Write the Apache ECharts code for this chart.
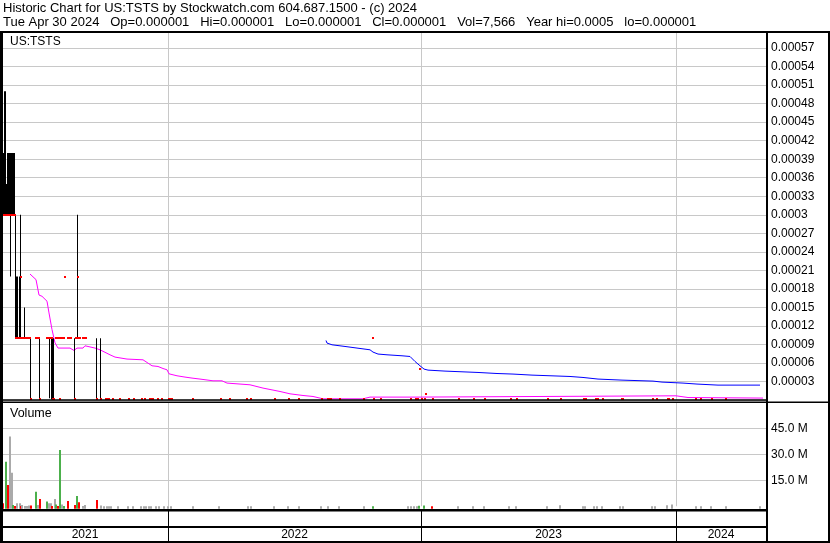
<!DOCTYPE html>
<html><head><meta charset="utf-8">
<script src="https://cdn.jsdelivr.net/npm/echarts@6/dist/echarts.min.js"></script>
<style>html,body{margin:0;padding:0;background:#fff}#c{width:830px;height:543px}</style>
</head><body><div id="c"></div>
<script>
// ---------------- DATA (x = trading-day index from first bar) ----------------
const headerLine1 = 'Historic Chart for US:TSTS by Stockwatch.com 604.687.1500 - (c) 2024';
const headerLine2 = 'Tue Apr 30 2024   Op=0.000001   Hi=0.000001   Lo=0.000001   Cl=0.000001   Vol=7,566   Year hi=0.0005   lo=0.000001';
const symbolLabel = 'US:TSTS';
const volumeLabel = 'Volume';

const yearLabel = ['2021', '2022', '2023', '2024'];
const yearStart = [0, 166, 419, 674];
const yearEnd   = [166, 419, 674, 764];

// high-low bars
const barDay  = [0, 1, 2, 3, 4, 5, 6, 7, 8, 9, 10, 11, 12, 13, 14, 15, 17, 18, 22, 28, 37, 47, 49, 50, 51, 72, 75, 94, 98];
const barLow  = [0.0003, 0.0003, 0.0003, 0.0003, 0.0003, 0.0003, 0.0003, 0.0003, 0.0002, 0.0003, 0.0003, 0.0003, 0.0003, 0.0001, 0.0001, 0.0001, 0.0001, 0.0001, 0.0001, 0.000001, 0.000001, 0.000003, 0.000001, 0.000001, 0.000001, 0.000001, 0.0001, 0.000001, 0.000001];
const barHigh = [0.0004, 0.0004, 0.0005, 0.0005, 0.00035, 0.0004, 0.0004, 0.0004, 0.0004, 0.0004, 0.0004, 0.0004, 0.0004, 0.0003, 0.0002, 0.0002, 0.0002, 0.0003, 0.00015, 0.0001, 0.0001, 0.0001, 0.0001, 0.0001, 0.0001, 0.0001, 0.0003, 0.0001, 0.0001];

// closes (red ticks)
const closeDay = [0, 1, 2, 3, 4, 5, 6, 7, 8, 9, 10, 11, 12,
  13, 14, 15, 16, 17, 18, 19, 20, 21, 22, 23, 24, 25, 26, 27, 28,
  33, 34, 35, 36, 37, 44, 45, 46, 47, 48, 49, 50, 51, 53, 54, 55, 56, 57, 58, 59, 60, 61, 62,
  65, 66, 67, 68, 72, 73, 74, 75, 76, 77, 80, 81, 82, 83, 94, 98,
  103, 104, 105, 106, 110, 117, 126, 131, 139, 142, 147, 148, 149, 150, 155, 159, 166, 167, 168, 169,
  190, 218, 227, 244, 248, 272, 286, 296, 319, 325, 326, 328, 337, 361, 370, 371, 378,
  408, 413, 414, 415, 417, 419, 422, 423, 430, 456, 471, 482, 508, 514, 545, 558, 581, 582, 583,
  593, 594, 595, 600, 619, 620, 650, 654, 665, 666, 670, 693, 698, 709, 723, 758];
const closeVal = [0.0003, 0.0003, 0.0003, 0.0003, 0.0003, 0.0003, 0.0003, 0.0003, 0.0003, 0.0003, 0.0003, 0.0003, 0.0003,
  0.0001, 0.0001, 0.0001, 0.0001, 0.0001, 0.0002, 0.0001, 0.0001, 0.0001, 0.0001, 0.0001, 0.0001, 0.0001, 0.0001, 0.0001, 0.000001,
  0.0001, 0.0001, 0.0001, 0.0001, 0.000001, 0.0001, 0.0001, 0.0001, 0.0001, 0.0001, 0.0001, 0.000001, 0.000001, 0.0001, 0.0001, 0.0001, 0.0001, 0.000001, 0.0001, 0.0001, 0.0001, 0.0001, 0.0002,
  0.0001, 0.0001, 0.0001, 0.0001, 0.000001, 0.0001, 0.0001, 0.0002, 0.0001, 0.0001, 0.0001, 0.0001, 0.0001, 0.0001, 0.000001, 0.000001,
  0.000001, 0.000001, 0.000001, 0.000001, 0.000001, 0.000001, 0.000001, 0.000001, 0.000001, 0.000001, 0.000001, 0.000001, 0.000001, 0.000001, 0.000001, 0.000001, 0.000001, 0.000001, 0.000001, 0.000001,
  0.000001, 0.000001, 0.000001, 0.000001, 0.000001, 0.000001, 0.000001, 0.000001, 0.000001, 0.000001, 0.000001, 0.000001, 0.000001, 0.000001, 0.0001, 0.000001, 0.000001,
  0.000001, 0.000001, 0.000001, 0.000001, 0.00005, 0.000001, 0.000001, 0.00001, 0.000001, 0.000001, 0.000001, 0.000001, 0.000001, 0.000001, 0.000001, 0.000001, 0.000001, 0.000001, 0.000001,
  0.000001, 0.000001, 0.000001, 0.000001, 0.000001, 0.000001, 0.000001, 0.000001, 0.000001, 0.000001, 0.000001, 0.000001, 0.000001, 0.000001, 0.000001];

// short moving average (magenta)
const maShortDay = [28, 34, 37, 40, 45, 47, 50, 53, 56, 68, 72, 75, 81, 83, 93, 98, 108, 113, 125, 141, 145, 150, 156, 161, 165, 167, 175, 183, 190, 198, 211, 220, 225, 248, 261, 278, 288, 301, 311, 321, 361, 368, 415, 416, 674, 686, 761];
const maShortVal = [0.000204, 0.000195, 0.000170, 0.000168, 0.000160, 0.000141, 0.000114, 0.0000927, 0.0000841, 0.0000841, 0.0000802, 0.0000841, 0.0000841, 0.0000878, 0.0000841, 0.0000813, 0.0000732, 0.0000695, 0.0000663, 0.0000651, 0.0000608, 0.0000554, 0.0000543, 0.0000510, 0.0000489, 0.0000424, 0.0000392, 0.0000371, 0.0000355, 0.0000339, 0.0000311, 0.0000311, 0.0000274, 0.0000246, 0.0000193, 0.0000138, 0.0000100, 0.0000073, 0.0000057, 0.0000019, 0.0000019, 0.0000047, 0.0000047, 0.0000068, 0.0000068, 0.0000040, 0.0000031];

// long moving average (blue)
const maLongDay = [324, 325, 330, 343, 355, 368, 371, 376, 385, 400, 408, 413, 418, 422, 426, 443, 476, 495, 511, 530, 568, 581, 596, 620, 651, 660, 681, 695, 716, 758];
const maLongVal = [0.0000964, 0.0000922, 0.0000894, 0.0000867, 0.0000841, 0.0000813, 0.0000776, 0.0000744, 0.0000732, 0.0000716, 0.0000705, 0.0000624, 0.0000554, 0.0000501, 0.0000484, 0.0000468, 0.0000446, 0.0000429, 0.0000420, 0.0000403, 0.0000381, 0.0000365, 0.0000339, 0.0000322, 0.0000306, 0.0000290, 0.0000274, 0.0000258, 0.0000241, 0.0000241];

// volume (millions) and direction: u = up, d = down, n = unchanged
const volDay = [0, 3, 5, 7, 9, 10, 12, 14, 17, 18, 19, 22, 24, 26, 28, 33, 35, 37, 44, 46, 48, 49, 52, 53, 55, 57, 59, 61, 65, 72, 74, 76, 80, 82, 94, 98,
  101, 104, 106, 108, 115, 125, 130, 138, 141, 143, 146, 148, 153, 156, 161, 165, 168, 190, 216, 245, 248, 271, 285, 296, 318, 325, 336, 361, 370,
  405, 408, 411, 414, 416, 421, 429, 455, 470, 481, 506, 513, 544, 557, 580, 582, 591, 594, 599, 617, 620, 649, 652, 664, 669, 693, 698, 708, 723, 757];
const volVal = [1.7, 25.7, 12.3, 40.2, 19.4, 0.8, 0.2, 1.7, 1.7, 0.2, 0.8, 0.2, 0.2, 0.4, 0.4, 8.4, 0.8, 4.2, 2.7, 1.7, 1.7, 0.2, 4.2, 1.1, 0.2, 32.5, 1.1, 0.2, 3.1, 0.8, 5.9, 2.3, 0.2, 0.8, 3.6, 0.4,
  0.1, 0.1, 0.1, 0.1, 0.1, 0.1, 0.1, 0.1, 0.1, 0.1, 0.1, 0.1, 0.1, 0.1, 0.1, 0.1, 0.1, 0.1, 0.1, 0.1, 0.1, 0.1, 0.1, 0.1, 0.1, 0.1, 0.1, 0.1, 0.1,
  0.1, 0.1, 0.1, 0.1, 0.3, 0.4, 0.1, 0.1, 0.1, 0.1, 0.1, 0.1, 0.1, 0.6, 0.1, 0.1, 0.1, 0.1, 0.1, 0.1, 0.1, 0.1, 0.1, 0.6, 1.0, 0.1, 0.1, 0.1, 0.1, 0.1];
const volDir = ['d', 'u', 'd', 'n', 'n', 'u', 'd', 'n', 'n', 'd', 'n', 'n', 'n', 'n', 'd', 'u', 'n', 'd', 'u', 'n', 'n', 'd', 'n', 'u', 'd', 'u', 'n', 'u', 'd', 'd', 'u', 'd', 'n', 'n', 'd', 'n',
  'n', 'n', 'n', 'n', 'n', 'n', 'n', 'n', 'n', 'n', 'n', 'n', 'n', 'n', 'n', 'n', 'n', 'n', 'n', 'n', 'n', 'n', 'n', 'n', 'n', 'n', 'n', 'n', 'u',
  'n', 'n', 'n', 'n', 'u', 'u', 'd', 'n', 'n', 'n', 'n', 'n', 'n', 'n', 'n', 'n', 'n', 'n', 'n', 'n', 'n', 'n', 'n', 'n', 'n', 'n', 'n', 'n', 'n', 'n'];

// ---------------- CHART ----------------
const FONT = '"Liberation Sans", Arial, sans-serif';
const GRID = '#c8c8c8';
const dirColor = { u: '#4cb04c', d: '#ff0000', n: '#aaaaaa' };

const barData = barDay.map((d, i) => [d, barLow[i], barHigh[i]]);
const closeData = closeDay.map((d, i) => [d, closeVal[i]]);
const maShortData = maShortDay.map((d, i) => [d, maShortVal[i]]);
const maLongData = maLongDay.map((d, i) => [d, maLongVal[i]]);
const volData = volDay.map((d, i) => [d, volVal[i] * 1e6]);
const yearData = yearStart.map((s, i) => [s, yearEnd[i]]);
const yearLineData = yearStart.slice(1).map(s => [s, 0]);

const chart = echarts.init(document.getElementById('c'), null, { renderer: 'canvas', width: 830, height: 543 });

function yearGridSeries(idx) {
  return {
    type: 'custom', xAxisIndex: idx, yAxisIndex: idx, silent: true, z: 1,
    data: yearLineData,
    renderItem: (p, api) => {
      const x = Math.round(api.coord([api.value(0), 0])[0]);
      const cs = p.coordSys;
      return { type: 'rect', shape: { x: x, y: cs.y, width: 1, height: cs.height }, style: { fill: GRID } };
    }
  };
}

const option = {
  animation: false,
  backgroundColor: '#ffffff',
  grid: [
    { left: 2, top: 32, width: 764, height: 368, outerBoundsMode: 'none' },
    { left: 2, top: 402.3, width: 764, height: 104, outerBoundsMode: 'none' },
    { left: 2, top: 509, width: 764, height: 33, outerBoundsMode: 'none' }
  ],
  xAxis: [0, 1, 2].map(i => ({ type: 'value', gridIndex: i, min: 0, max: 764, show: false })),
  yAxis: [
    {
      type: 'value', gridIndex: 0, position: 'right', min: 0, max: 0.000596, interval: 0.00003,
      axisLine: { show: false }, axisTick: { show: false },
      splitLine: { show: true, lineStyle: { color: GRID, width: 1 } },
      axisLabel: { showMinLabel: false, showMaxLabel: false, margin: 5, color: '#000', fontSize: 12, fontFamily: FONT,
        formatter: v => String(+v.toFixed(6)) }
    },
    {
      type: 'value', gridIndex: 1, position: 'right', min: 0, max: 60e6, interval: 15e6,
      axisLine: { show: false }, axisTick: { show: false },
      splitLine: { show: true, showMinLine: false, lineStyle: { color: GRID, width: 1 } },
      axisLabel: { showMinLabel: false, showMaxLabel: false, margin: 5, color: '#000', fontSize: 12, fontFamily: FONT,
        formatter: v => (v / 1e6).toFixed(1) + ' M' }
    },
    { type: 'value', gridIndex: 2, min: 0, max: 1, show: false }
  ],
  series: [
    yearGridSeries(0),
    yearGridSeries(1),
    {
      type: 'line', xAxisIndex: 0, yAxisIndex: 0, data: maShortData, showSymbol: false, silent: true, z: 2,
      lineStyle: { color: '#ff00ff', width: 1 }
    },
    {
      type: 'line', xAxisIndex: 0, yAxisIndex: 0, data: maLongData, showSymbol: false, silent: true, z: 2,
      lineStyle: { color: '#0000ff', width: 1 }
    },
    {
      type: 'custom', xAxisIndex: 0, yAxisIndex: 0, data: barData, silent: true, z: 3,
      renderItem: (p, api) => {
        const lo = api.coord([api.value(0), api.value(1)]);
        const hi = api.coord([api.value(0), api.value(2)]);
        return { type: 'rect', shape: { x: Math.round(lo[0]), y: hi[1], width: 1, height: lo[1] - hi[1] }, style: { fill: '#000' } };
      }
    },
    {
      type: 'custom', xAxisIndex: 0, yAxisIndex: 0, data: closeData, silent: true, z: 4,
      renderItem: (p, api) => {
        const c = api.coord([api.value(0), api.value(1)]);
        return { type: 'rect', shape: { x: Math.round(c[0]), y: Math.round(c[1]) - 1, width: 2, height: 2 }, style: { fill: '#ff0000' } };
      }
    },
    {
      type: 'custom', xAxisIndex: 1, yAxisIndex: 1, data: volData, silent: true, z: 3,
      renderItem: (p, api) => {
        const top = api.coord([api.value(0), api.value(1)]);
        const base = api.coord([api.value(0), 0]);
        return { type: 'rect', shape: { x: Math.round(top[0]), y: top[1], width: 2, height: base[1] + 2.5 - top[1] },
          style: { fill: dirColor[volDir[p.dataIndex]] } };
      }
    },
    {
      type: 'custom', xAxisIndex: 2, yAxisIndex: 2, data: yearData, silent: true, z: 5,
      renderItem: (p, api) => {
        const cs = p.coordSys;
        const x1 = Math.round(api.coord([api.value(0), 0])[0]);
        const x2 = api.coord([api.value(1), 0])[0];
        const children = [{
          type: 'text',
          style: { text: yearLabel[p.dataIndex], x: (x1 + x2) / 2, y: cs.y + cs.height * 0.79,
            align: 'center', verticalAlign: 'middle', font: '12px ' + FONT, fill: '#000' }
        }];
        if (api.value(0) > 0) {
          children.push({ type: 'rect', shape: { x: x1, y: cs.y, width: 1, height: cs.height }, style: { fill: '#000' } });
        }
        return { type: 'group', children: children };
      }
    }
  ],
  graphic: [
    { type: 'text', x: 3, y: 8.5, style: { text: headerLine1, font: '13px ' + FONT, fill: '#000', verticalAlign: 'middle' } },
    { type: 'text', x: 3, y: 22.5, style: { text: headerLine2, font: '13px ' + FONT, fill: '#000', verticalAlign: 'middle' } },
    { type: 'text', x: 10, y: 41.5, style: { text: symbolLabel, font: '12px ' + FONT, fill: '#000', verticalAlign: 'middle' } },
    { type: 'text', x: 10, y: 413.8, style: { text: volumeLabel, font: '12.5px ' + FONT, fill: '#000', verticalAlign: 'middle' } },
    // frame lines
    { type: 'rect', shape: { x: 0, y: 31, width: 830, height: 2 }, style: { fill: '#000' }, z: 100 },
    { type: 'rect', shape: { x: 0, y: 31, width: 3, height: 512 }, style: { fill: '#000' }, z: 100 },
    { type: 'rect', shape: { x: 766, y: 31, width: 2, height: 512 }, style: { fill: '#000' }, z: 100 },
    { type: 'rect', shape: { x: 828, y: 31, width: 2, height: 512 }, style: { fill: '#000' }, z: 100 },
    { type: 'rect', shape: { x: 3, y: 399.2, width: 763, height: 1.5 }, style: { fill: '#000' }, z: 100 },
    { type: 'rect', shape: { x: 3, y: 401.6, width: 827, height: 1.5 }, style: { fill: '#000' }, z: 100 },
    { type: 'rect', shape: { x: 3, y: 509, width: 763, height: 2.5 }, style: { fill: '#000' }, z: 100 },
    { type: 'rect', shape: { x: 3, y: 526, width: 763, height: 2 }, style: { fill: '#000' }, z: 100 },
    { type: 'rect', shape: { x: 0, y: 541, width: 830, height: 2 }, style: { fill: '#000' }, z: 100 }
  ]
};
chart.setOption(option);
</script>
</body></html>
